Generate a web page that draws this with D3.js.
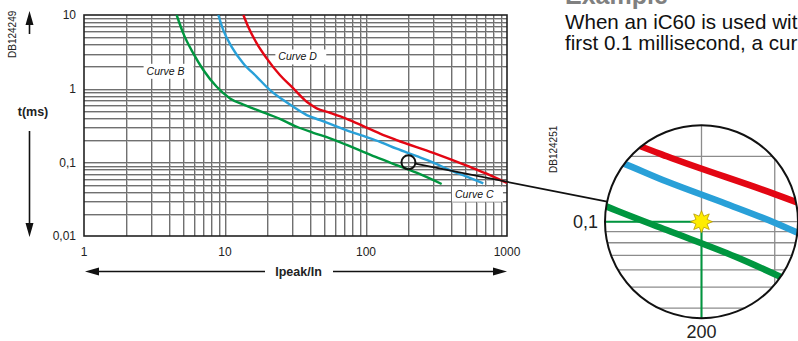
<!DOCTYPE html>
<html><head><meta charset="utf-8">
<script src="https://cdn.jsdelivr.net/npm/d3@7"></script>
<style>html,body{margin:0;padding:0;background:#fff;overflow:hidden}svg{display:block}text{font-family:"Liberation Sans",Arial,sans-serif}</style>
</head><body>
<svg id="c" width="798" height="341"></svg>
<script>
// ---- data ----
const xTicks = [1, 10, 100, 1000];
const xTickLabels = ["1", "10", "100", "1000"];
const yTicks = [0.01, 0.1, 1, 10];
const yTickLabels = ["0,01", "0,1", "1", "10"];
const curveNames = ["Curve B", "Curve C", "Curve D"];
const curveColors = ["#00963f", "#29a0d8", "#e30613"];
const curveB = [[4.54,10],[5.06,5.63],[5.96,3.01],[7.02,1.79],[8.73,1.06],[10.85,0.738],[13.5,0.608],[17.7,0.497],[24.5,0.389],[32.3,0.304],[42.3,0.252],[55.6,0.211],[73,0.172],[95.7,0.139],[125.7,0.112],[165,0.0915],[241.5,0.069],[344,0.0508]];
const curveC = [[8.97,10],[9.72,6.24],[11.15,3.70],[13.5,2.20],[16.8,1.45],[20.85,0.957],[25.9,0.70],[30.5,0.567],[38,0.438],[47.2,0.375],[58.6,0.321],[73,0.272],[95.7,0.228],[125.7,0.19],[165,0.153],[229,0.121],[300,0.099],[394,0.0786],[518,0.0638],[679,0.0519]];
const curveD = [[13.5,10],[14.6,6.92],[16.8,4.12],[19.76,2.58],[24.5,1.53],[30.5,1.01],[38,0.664],[44.7,0.541],[55.6,0.471],[73,0.39],[95.7,0.31],[125.7,0.245],[165,0.2],[300,0.134],[518,0.09],[757,0.0672],[1000,0.0524]];
const labelAnchors = [[2.78,1.73],[428,0.0371],[23.9,2.71]]; // B, C, D
const examplePoint = [200, 0.1];
const exampleLabels = ["200", "0,1"];
const headerTitle = "Example";
const headerLines = ["When an iC60 is used wit", "first 0.1 millisecond, a cur"];
const refMain = "DB124249", refInset = "DB124251";
const xTitle = "Ipeak/In", yTitle = "t(ms)";

const curves = [curveB, curveC, curveD];
const svg = d3.select("#c");
const L = 84, R = 507, T = 15, B = 236;
const x = d3.scaleLog().domain([1, 1000]).range([L, R]);
const y = d3.scaleLog().domain([0.01, 10]).range([B, T]);

const gridX = [], gridY = [];
for (let k = 0; k < 3; k++) for (let m = 1; m < 10; m++) gridX.push(m * Math.pow(10, k));
for (let k = -2; k < 1; k++) for (let m = 1; m < 10; m++) gridY.push(m * Math.pow(10, k));

const g = svg.append("g");
const gx = gridX.filter(v => v > 1 && v < 1000);
const gy = gridY.filter(v => v > 0.01 && v < 10);
g.selectAll(".gxl").data(gx).join("line").attr("x1", d => Math.round(x(d)) + 1.5).attr("x2", d => Math.round(x(d)) + 1.5)
  .attr("y1", T).attr("y2", B).attr("stroke", "#c4c4c4").attr("stroke-width", 1);
g.selectAll(".gyl").data(gy).join("line").attr("y1", d => Math.round(y(d)) + 1.5).attr("y2", d => Math.round(y(d)) + 1.5)
  .attr("x1", L).attr("x2", R).attr("stroke", "#c4c4c4").attr("stroke-width", 1);
g.selectAll(".gxd").data(gx).join("line").attr("x1", d => Math.round(x(d)) + 0.5).attr("x2", d => Math.round(x(d)) + 0.5)
  .attr("y1", T).attr("y2", B).attr("stroke", "#707070").attr("stroke-width", 1);
g.selectAll(".gyd").data(gy).join("line").attr("y1", d => Math.round(y(d)) + 0.5).attr("y2", d => Math.round(y(d)) + 0.5)
  .attr("x1", L).attr("x2", R).attr("stroke", "#707070").attr("stroke-width", 1);

const labG = svg.append("g");
labelAnchors.forEach((a, i) => {
  const t = labG.append("text").attr("x", x(a[0])).attr("y", y(a[1])).attr("dy", "0.35em")
    .attr("font-size", 10.5).attr("font-style", "italic").attr("fill", "#111").text(curveNames[i]);
  const bb = t.node().getBBox();
  labG.insert("rect", "text").attr("x", bb.x - 3).attr("y", bb.y - 1).attr("width", bb.width + 12).attr("height", bb.height + 3).attr("fill", "#fff");
});

svg.append("rect").attr("x", L).attr("y", T).attr("width", R - L).attr("height", B - T)
  .attr("fill", "none").attr("stroke", "#222").attr("stroke-width", 1.6);

const line = d3.line().x(d => x(d[0])).y(d => y(d[1])).curve(d3.curveMonotoneX);
svg.append("g").selectAll("path").data(curves).join("path").attr("d", line)
  .attr("fill", "none").attr("stroke", (d, i) => curveColors[i]).attr("stroke-width", 2.4);

svg.append("g").selectAll("text").data(yTicks).join("text").attr("x", 76).attr("y", d => y(d)).attr("dy", "0.35em")
  .attr("text-anchor", "end").attr("font-size", 12).attr("fill", "#222").text((d, i) => yTickLabels[i]);
svg.append("g").selectAll("text").data(xTicks).join("text").attr("x", d => x(d)).attr("y", 252).attr("dy", "0.35em")
  .attr("text-anchor", "middle").attr("font-size", 12).attr("fill", "#222").text((d, i) => xTickLabels[i]);

const arrowC = "#111";
function arrowHead(tx, ty, dx, dy) {
  const len = 14, w = 4;
  const bx = tx - dx * len, by = ty - dy * len;
  return `M${tx},${ty}L${bx - dy * w},${by + dx * w}L${bx + dy * w},${by - dx * w}Z`;
}
const ax = 29.5;
svg.append("line").attr("x1", ax).attr("x2", ax).attr("y1", 34).attr("y2", 20).attr("stroke", arrowC).attr("stroke-width", 1.6);
svg.append("path").attr("d", arrowHead(ax, 11, 0, -1)).attr("fill", arrowC);
svg.append("line").attr("x1", ax).attr("x2", ax).attr("y1", 131).attr("y2", 228).attr("stroke", arrowC).attr("stroke-width", 1.6);
svg.append("path").attr("d", arrowHead(ax, 237, 0, 1)).attr("fill", arrowC);
svg.append("text").attr("x", 33).attr("y", 112).attr("dy", "0.35em").attr("text-anchor", "middle")
  .attr("font-size", 12.5).attr("font-weight", "bold").attr("fill", "#222").text(yTitle);
const ay = 271.5;
svg.append("line").attr("x1", 92).attr("x2", 265).attr("y1", ay).attr("y2", ay).attr("stroke", arrowC).attr("stroke-width", 1.6);
svg.append("path").attr("d", arrowHead(85, ay, -1, 0)).attr("fill", arrowC);
svg.append("line").attr("x1", 333).attr("x2", 500).attr("y1", ay).attr("y2", ay).attr("stroke", arrowC).attr("stroke-width", 1.6);
svg.append("path").attr("d", arrowHead(507, ay, 1, 0)).attr("fill", arrowC);
svg.append("text").attr("x", 298.5).attr("y", ay).attr("dy", "0.35em").attr("text-anchor", "middle")
  .attr("font-size", 12.5).attr("font-weight", "bold").attr("fill", "#222").text(xTitle);

svg.append("text").attr("transform", "translate(16,58) rotate(-90)").attr("font-size", 10).attr("fill", "#222").text(refMain);
svg.append("text").attr("transform", "translate(557,173) rotate(-90)").attr("font-size", 10).attr("fill", "#222").text(refInset);

svg.append("text").attr("x", 565).attr("y", 4).attr("font-size", 25).attr("font-weight", "bold").attr("fill", "#808080").text(headerTitle);
svg.append("g").selectAll("text").data(headerLines).join("text").attr("x", 565).attr("y", (d, i) => 29 + i * 21)
  .attr("font-size", 20.6).attr("fill", "#111").text(d => d);

// ---- inset magnifier ----
const cx = 701.5, cy = 221.7, Rr = 96.5, mag = 2.95;
const dpx = x(10) - x(1), dpy = y(1) - y(10);
const xi = d3.scaleLog().domain([examplePoint[0] * Math.pow(10, -Rr / (dpx * mag)), examplePoint[0] * Math.pow(10, Rr / (dpx * mag))]).range([cx - Rr, cx + Rr]);
const yi = d3.scaleLog().domain([examplePoint[1] * Math.pow(10, Rr / (dpy * mag)), examplePoint[1] * Math.pow(10, -Rr / (dpy * mag))]).range([cy - Rr, cy + Rr]);
svg.append("clipPath").attr("id", "cc").append("circle").attr("cx", cx).attr("cy", cy).attr("r", Rr);
const ig = svg.append("g").attr("clip-path", "url(#cc)");
ig.append("circle").attr("cx", cx).attr("cy", cy).attr("r", Rr).attr("fill", "#fff");
const ix = gridX.filter(v => v > xi.domain()[0] && v < xi.domain()[1]);
const iy = gridY.filter(v => v < yi.domain()[0] && v > yi.domain()[1]);
ig.selectAll(".iv").data(ix).join("line").attr("x1", d => xi(d)).attr("x2", d => xi(d)).attr("y1", cy - Rr).attr("y2", cy + Rr)
  .attr("stroke", "#8c8c8c").attr("stroke-width", 1.3);
ig.selectAll(".ih").data(iy).join("line").attr("y1", d => yi(d)).attr("y2", d => yi(d)).attr("x1", cx - Rr).attr("x2", cx + Rr)
  .attr("stroke", "#8c8c8c").attr("stroke-width", 1.3);
const iline = d3.line().x(d => xi(d[0])).y(d => yi(d[1])).curve(d3.curveMonotoneX);
ig.selectAll(".ic").data(curves).join("path").attr("d", iline).attr("fill", "none")
  .attr("stroke", (d, i) => curveColors[i]).attr("stroke-width", 6.5);
const px = xi(examplePoint[0]), py = yi(examplePoint[1]);
ig.append("line").attr("x1", cx - Rr).attr("x2", px).attr("y1", py).attr("y2", py).attr("stroke", "#00963f").attr("stroke-width", 2);
ig.append("line").attr("x1", px).attr("x2", px).attr("y1", py).attr("y2", cy + Rr).attr("stroke", "#00963f").attr("stroke-width", 2);
const star = [];
for (let k = 0; k < 16; k++) { const r = k % 2 ? 6 : 11; const a = k * Math.PI / 8 - Math.PI / 2; star.push([px + r * Math.cos(a), py + r * Math.sin(a)]); }
svg.append("path").attr("d", "M" + star.join("L") + "Z").attr("fill", "#ffec00").attr("stroke", "#b89a00").attr("stroke-width", 0.8);
svg.append("circle").attr("cx", cx).attr("cy", cy).attr("r", Rr).attr("fill", "none").attr("stroke", "#111").attr("stroke-width", 2);
svg.append("text").attr("x", px).attr("y", 332).attr("dy", "0.35em").attr("text-anchor", "middle").attr("font-size", 18).attr("fill", "#222").text(exampleLabels[0]);
svg.append("text").attr("x", 598).attr("y", py).attr("dy", "0.35em").attr("text-anchor", "end").attr("font-size", 18).attr("fill", "#222").text(exampleLabels[1]);

const sx = x(examplePoint[0]), sy = y(examplePoint[1]), sr = 7;
const ang = Math.PI + 0.209;
const ex = cx + Rr * Math.cos(ang), ey = cy + Rr * Math.sin(ang);
const dl = Math.hypot(ex - sx, ey - sy);
svg.append("line").attr("x1", sx + (ex - sx) / dl * sr).attr("y1", sy + (ey - sy) / dl * sr).attr("x2", ex).attr("y2", ey)
  .attr("stroke", "#111").attr("stroke-width", 1.8);
svg.append("circle").attr("cx", sx).attr("cy", sy).attr("r", sr).attr("fill", "none").attr("stroke", "#111").attr("stroke-width", 2);
</script>
</body></html>
